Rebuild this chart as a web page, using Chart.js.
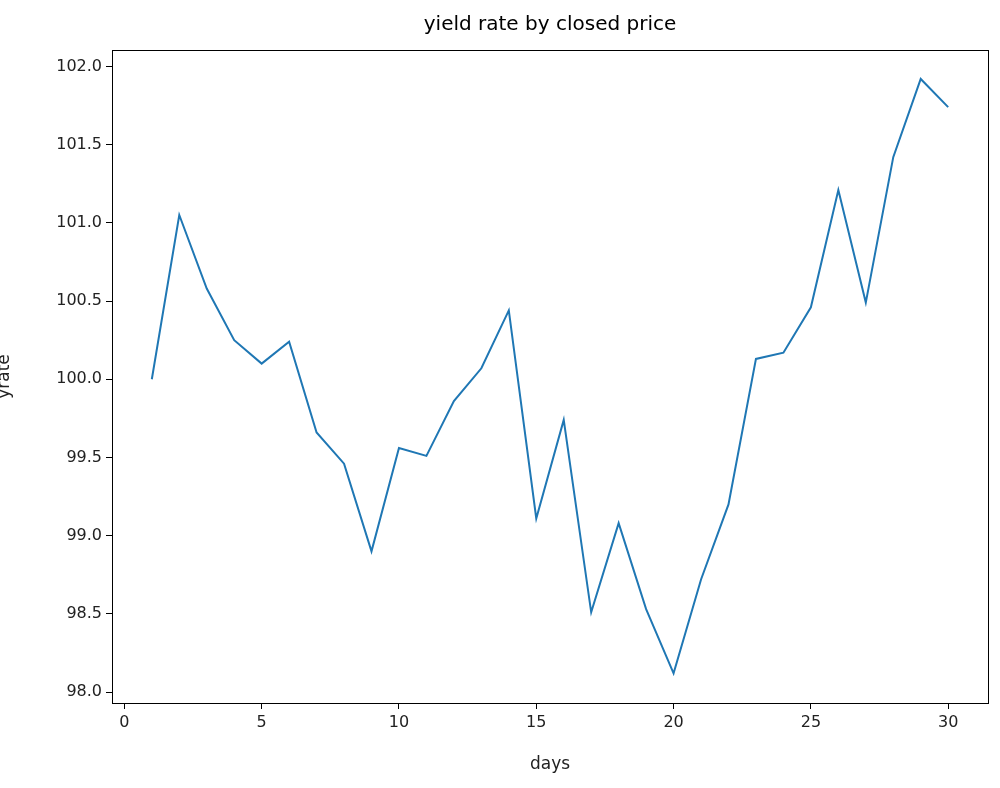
<!DOCTYPE html>
<html><head><meta charset="utf-8">
<script src="https://cdn.jsdelivr.net/npm/chart.js@4"></script>
<style>html,body{margin:0;padding:0;background:#fff}#w{width:1000px;height:788px}</style>
</head><body><div id="w"><canvas id="c"></canvas></div>
<script>
const days=[1,2,3,4,5,6,7,8,9,10,11,12,13,14,15,16,17,18,19,20,21,22,23,24,25,26,27,28,29,30];
const yrate=[100.0,101.05,100.58,100.25,100.10,100.24,99.66,99.46,98.90,99.56,99.51,99.86,100.07,100.44,99.11,99.74,98.51,99.08,98.53,98.12,98.72,99.20,100.13,100.17,100.46,101.21,100.49,101.42,101.92,101.74];
const xTicks=[0,5,10,15,20,25,30];
const yTicks=[98.0,98.5,99.0,99.5,100.0,100.5,101.0,101.5,102.0];
const F='DejaVu Sans';
const deco={id:'deco',afterDraw(ch){const c=ch.ctx,a=ch.chartArea;c.save();
c.strokeStyle='#000';c.lineWidth=1;c.strokeRect(Math.round(a.left)+0.5,Math.round(a.top)+0.5,Math.round(a.right-a.left),Math.round(a.bottom-a.top));
c.fillStyle='#000';c.textAlign='center';c.textBaseline='middle';
c.font='20px '+F;c.fillText('yield rate by closed price',(a.left+a.right)/2,25);
c.font='17px '+F;c.fillStyle='#222';c.fillText('days',(a.left+a.right)/2,765);
c.translate(5,(a.top+a.bottom)/2);c.rotate(-Math.PI/2);c.fillText('yrate',0,0);c.restore();}};
new Chart(document.getElementById('c'),{type:'line',
data:{datasets:[{data:days.map((d,i)=>({x:d,y:yrate[i]})),borderColor:'#1f77b4',borderWidth:2,pointRadius:0,tension:0,fill:false}]},
options:{animation:false,responsive:true,maintainAspectRatio:false,
layout:{padding:{top:50,right:12,left:0,bottom:0}},
plugins:{legend:{display:false},tooltip:{enabled:false}},
scales:{
x:{type:'linear',min:-0.45,max:31.45,afterBuildTicks(s){s.ticks=xTicks.map(v=>({value:v}));},afterFit(s){s.height=85;},
 grid:{display:true,drawOnChartArea:false,tickLength:6,color:'#000'},border:{color:'#000',width:1},
 ticks:{color:'#222',font:{family:F,size:16},padding:4,maxRotation:0,callback:v=>v}},
y:{type:'linear',min:97.93,max:102.105,afterBuildTicks(s){s.ticks=yTicks.map(v=>({value:v}));},afterFit(s){s.width=112;},
 grid:{display:true,drawOnChartArea:false,tickLength:6,color:'#000'},border:{color:'#000',width:1},
 ticks:{color:'#222',font:{family:F,size:16},padding:4,callback:v=>Number(v).toFixed(1)}}
}},plugins:[deco]});
</script></body></html>
